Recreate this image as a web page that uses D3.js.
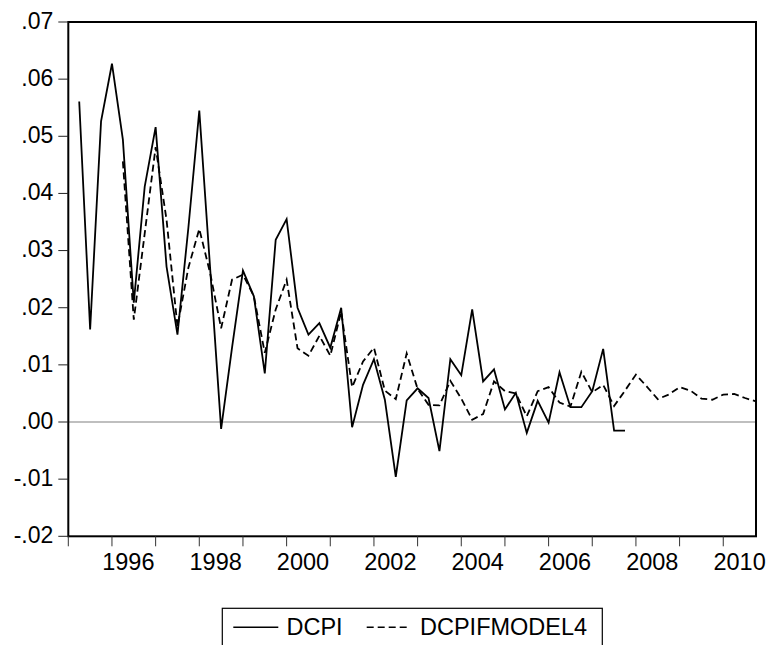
<!DOCTYPE html>
<html>
<head>
<meta charset="utf-8">
<script src="https://cdn.jsdelivr.net/npm/d3@7/dist/d3.min.js"></script>
<style>
  html, body { margin: 0; padding: 0; background: #fff; }
  svg { display: block; }
  text { font-family: "Liberation Sans", Arial, sans-serif; fill: #000; }
</style>
</head>
<body>
<svg id="chart" width="769" height="645"></svg>
<script>
// Quarterly sample 1995Q1 .. 2010Q4
const firstYear = 1995;
const lastYear = 2010;

// Actual quarterly change in CPI, 1995Q2 .. 2007Q4
const dcpiStart = "1995Q2";
const dcpi = [
  0.0561, 0.0162, 0.0526, 0.0627, 0.0494, 0.0209, 0.0412, 0.0516, 0.0272, 0.0153,
  0.0340, 0.0545, 0.0267, -0.0012, 0.0130, 0.0265, 0.0220, 0.0085, 0.0319, 0.0355,
  0.0200, 0.0153, 0.0173, 0.0130, 0.0200, -0.0009, 0.0065, 0.0110, 0.0039, -0.0096,
  0.0038, 0.0059, 0.0042, -0.0051, 0.0110, 0.0082, 0.0197, 0.0071, 0.0092, 0.0022,
  0.0051, -0.0019, 0.0037, -0.0001, 0.0087, 0.0026, 0.0026, 0.0054, 0.0128, -0.0015,
  -0.0015
];

// Model 4 fitted / forecast values, 1996Q2 .. 2010Q4
const fcStart = "1996Q2";
const dcpiFModel4 = [
  0.0456, 0.0179, 0.0330, 0.0481, 0.0354, 0.0167, 0.0270, 0.0338, 0.0260, 0.0164,
  0.0249, 0.0258, 0.0220, 0.0121, 0.0197, 0.0249, 0.0129, 0.0116, 0.0151, 0.0116,
  0.0193, 0.0061, 0.0106, 0.0130, 0.0055, 0.0040, 0.0120, 0.0058, 0.0030, 0.0029,
  0.0072, 0.0041, 0.0004, 0.0014, 0.0071, 0.0054, 0.0050, 0.0010, 0.0054, 0.0061,
  0.0034, 0.0027, 0.0088, 0.0052, 0.0065, 0.0028, 0.0055, 0.0083, 0.0062, 0.0040,
  0.0048, 0.0061, 0.0055, 0.0041, 0.0039, 0.0048, 0.0049, 0.0042, 0.0036
];

const yTicks = [0.07, 0.06, 0.05, 0.04, 0.03, 0.02, 0.01, 0.00, -0.01, -0.02];
const yearLabels = [1996, 1998, 2000, 2002, 2004, 2006, 2008, 2010];
const seriesNames = ["DCPI", "DCPIFMODEL4"];

// quarter labels for the whole sample
const quarters = [];
for (let y = firstYear; y <= lastYear; y++) for (let q = 1; q <= 4; q++) quarters.push(y + "Q" + q);

function toPoints(start, values) {
  const s = quarters.indexOf(start);
  return values.map((v, i) => ({ q: quarters[s + i], v }));
}

const svg = d3.select("#chart");
const plot = { left: 68.3, right: 756, top: 22, bottom: 536.3 };

const x = d3.scalePoint().domain(quarters).range([plot.left, plot.right]);
const y = d3.scaleLinear().domain([-0.02, 0.07]).range([plot.bottom, plot.top]);

// ".05" / "-.01" style labels without the leading zero
const fmt = v => (v < -1e-9 ? "-" : "") + Math.abs(v).toFixed(2).slice(1);

// zero reference line
svg.append("line")
  .attr("x1", plot.left).attr("x2", plot.right)
  .attr("y1", y(0)).attr("y2", y(0))
  .attr("stroke", "#808080").attr("stroke-width", 1.2);

// series
const line = d3.line().x(d => x(d.q)).y(d => y(d.v));

svg.append("path")
  .datum(toPoints(fcStart, dcpiFModel4))
  .attr("d", line)
  .attr("fill", "none").attr("stroke", "#000")
  .attr("stroke-width", 1.8).attr("stroke-dasharray", "7,4")
  .attr("stroke-linejoin", "miter");

svg.append("path")
  .datum(toPoints(dcpiStart, dcpi))
  .attr("d", line)
  .attr("fill", "none").attr("stroke", "#000")
  .attr("stroke-width", 1.8)
  .attr("stroke-linejoin", "miter");

// frame
svg.append("rect")
  .attr("x", plot.left).attr("y", plot.top)
  .attr("width", plot.right - plot.left).attr("height", plot.bottom - plot.top)
  .attr("fill", "none").attr("stroke", "#000").attr("stroke-width", 2);

// left axis
const yAxis = svg.append("g");
yAxis.selectAll("line").data(yTicks).join("line")
  .attr("x1", plot.left - 10).attr("x2", plot.left)
  .attr("y1", d => y(d)).attr("y2", d => y(d))
  .attr("stroke", "#222").attr("stroke-width", 1);
yAxis.selectAll("text").data(yTicks).join("text")
  .attr("x", plot.left - 15).attr("y", d => y(d) + 6.8)
  .attr("text-anchor", "end").attr("font-size", 23)
  .text(fmt);

// bottom axis: a tick at each year start, labels every second year centred on the year
const xAxis = svg.append("g");
const yearStarts = quarters.filter(q => q.endsWith("Q1"));
xAxis.selectAll("line").data(yearStarts).join("line")
  .attr("x1", d => x(d)).attr("x2", d => x(d))
  .attr("y1", plot.bottom).attr("y2", plot.bottom + 10)
  .attr("stroke", "#333").attr("stroke-width", 1);
xAxis.selectAll("text").data(yearLabels).join("text")
  .attr("x", d => (x(d + "Q2") + x(d + "Q3")) / 2)
  .attr("y", 570)
  .attr("text-anchor", "middle").attr("font-size", 23.5)
  .text(d => String(d));

// legend
const leg = svg.append("g");
leg.append("rect")
  .attr("x", 222.3).attr("y", 608.3).attr("width", 380).attr("height", 60)
  .attr("fill", "#fff").attr("stroke", "#000").attr("stroke-width", 1.2);
leg.append("line")
  .attr("x1", 233.3).attr("x2", 278.3).attr("y1", 627.3).attr("y2", 627.3)
  .attr("stroke", "#000").attr("stroke-width", 1.6);
leg.append("text").attr("x", 286.5).attr("y", 634.5).attr("font-size", 23.5).text(seriesNames[0]);
leg.append("line")
  .attr("x1", 366.7).attr("x2", 410).attr("y1", 627.3).attr("y2", 627.3)
  .attr("stroke", "#000").attr("stroke-width", 1.6).attr("stroke-dasharray", "7,4");
leg.append("text").attr("x", 420).attr("y", 634.5).attr("font-size", 23.5).text(seriesNames[1]);
</script>
</body>
</html>
